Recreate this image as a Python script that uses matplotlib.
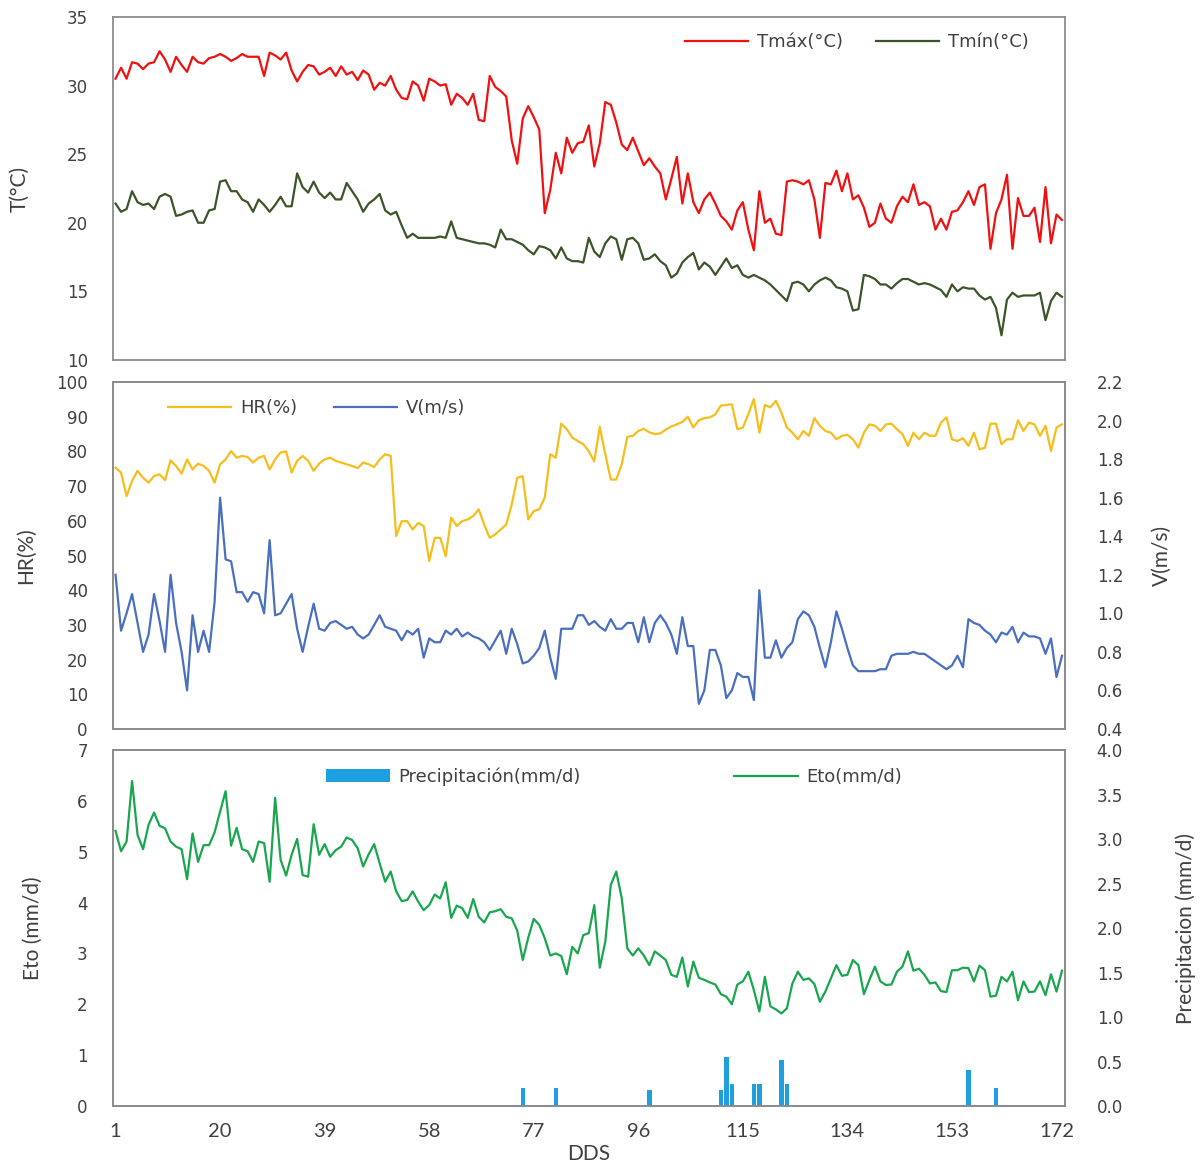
import numpy as np
import matplotlib.pyplot as plt

# daily weather series, DDS 1..173
tmax = [30.5, 31.3, 30.5, 31.7, 31.6, 31.2, 31.6, 31.7, 32.5, 31.9,
        31.0, 32.1, 31.5, 31.0, 32.1, 31.7, 31.6, 32.0, 32.1, 32.3,
        32.1, 31.8, 32.0, 32.3, 32.1, 32.1, 32.1, 30.7, 32.4, 32.2,
        31.9, 32.4, 31.1, 30.3, 31.0, 31.5, 31.4, 30.8, 31.0, 31.3,
        30.7, 31.4, 30.8, 31.0, 30.4, 31.1, 30.8, 29.7, 30.2, 30.0,
        30.7, 29.7, 29.1, 29.0, 30.3, 30.0, 28.9, 30.5, 30.3, 30.0,
        30.1, 28.6, 29.4, 29.1, 28.6, 29.4, 27.5, 27.4, 30.7, 29.9,
        29.6, 29.2, 26.0, 24.3, 27.6, 28.5, 27.7, 26.8, 20.7, 22.4,
        25.1, 23.6, 26.2, 25.1, 25.8, 25.9, 27.1,
        24.1, 25.8, 28.8, 28.6, 27.3, 25.7, 25.3, 26.2, 25.2, 24.2,
        24.7, 24.1, 23.6, 21.7, 23.2, 24.8, 21.4, 23.6, 21.5, 20.7,
        21.7, 22.2, 21.4, 20.5, 20.1, 19.5, 20.9, 21.5, 19.5, 18.0,
        22.3, 20.0, 20.3, 19.2, 19.1, 23.0, 23.1, 23.0, 22.8, 23.1,
        21.7, 18.9, 22.9, 22.8, 23.8, 22.3, 23.6, 21.7, 22.0, 21.1,
        19.7, 20.0, 21.4, 20.3, 20.0, 21.2, 21.9, 21.5, 22.8, 21.3,
        21.5, 21.2, 19.5, 20.3, 19.5, 20.8, 20.9, 21.5, 22.3, 21.3,
        22.6, 22.8, 18.1, 20.7, 21.7, 23.5, 18.1, 21.8, 20.5, 20.5,
        21.1, 18.6, 22.6, 18.5, 20.6, 20.2]

tmin = [21.4, 20.8, 21.0, 22.3, 21.5, 21.3, 21.4, 21.0, 21.9, 22.1,
        21.9, 20.5, 20.6, 20.8, 20.9, 20.0, 20.0, 20.9, 21.0, 23.0,
        23.1, 22.3, 22.3, 21.7, 21.5, 20.8, 21.7, 21.3, 20.8, 21.3,
        21.9, 21.2, 21.2, 23.6, 22.6, 22.2, 23.0, 22.2, 21.8, 22.2,
        21.7, 21.7, 22.9, 22.3, 21.7, 20.8, 21.4, 21.7, 22.1, 20.9,
        20.6, 20.8, 19.8, 18.9, 19.2, 18.9, 18.9, 18.9, 18.9, 19.0,
        18.9, 20.1, 18.9, 18.8, 18.7, 18.6, 18.5, 18.5, 18.4, 18.2,
        19.5, 18.8, 18.8, 18.6, 18.4, 18.0, 17.7, 18.3, 18.2, 18.0,
        17.4, 18.2, 17.4, 17.2, 17.2, 17.1, 18.9,
        17.9, 17.5, 18.5, 19.0, 18.8, 17.3, 18.8, 18.9, 18.5, 17.3,
        17.4, 17.7, 17.2, 16.9, 16.0, 16.3, 17.1, 17.5, 17.8,
        16.6, 17.1, 16.8, 16.2, 16.8, 17.4, 16.7, 16.9, 16.2, 16.0,
        16.2, 16.0, 15.8, 15.5, 15.1, 14.7, 14.3, 15.6, 15.7, 15.5,
        15.0, 15.5, 15.8, 16.0, 15.8, 15.3, 15.2, 15.0, 13.6, 13.7,
        16.2, 16.1, 15.9, 15.5, 15.5, 15.2, 15.6, 15.9, 15.9, 15.7,
        15.5, 15.6, 15.5, 15.3, 15.1, 14.6, 15.5, 15.0, 15.3, 15.2,
        15.2, 14.7, 14.4, 14.6, 13.8, 11.8, 14.4, 14.9, 14.6, 14.7,
        14.7, 14.7, 14.9, 12.9, 14.3, 14.9, 14.6]

hr = [75.3, 73.9, 67.1, 71.5, 74.4, 72.4, 71.0, 72.9, 73.4, 71.7,
      77.4, 75.8, 73.6, 77.7, 74.8, 76.5, 75.8, 74.4, 71.0, 76.3,
      77.7, 80.1, 78.2, 78.7, 78.4, 76.8, 78.2, 78.7, 74.8, 77.7,
      79.7, 80.0, 73.9, 77.3, 78.7, 77.3, 74.4, 76.5, 77.7, 78.2,
      77.3, 76.8, 76.3, 75.8, 75.2, 76.8, 76.3, 75.5, 77.7, 79.2,
      78.7, 55.6, 59.9, 59.9, 57.5, 59.4, 58.5, 48.4, 55.1, 55.1,
      49.8, 60.9, 58.5, 59.9, 60.4, 61.4, 63.3, 58.9, 55.1, 56.1,
      57.5, 58.9, 64.7, 72.4, 72.9, 60.4, 62.8, 63.3, 66.7, 79.2,
      78.2, 88.0, 86.4, 84.0, 83.0, 82.1, 80.1,
      77.1, 87.1, 79.2, 71.9, 71.9, 76.3, 84.2, 84.5, 85.9, 86.5,
      85.5, 85.0, 85.2, 86.3, 87.2, 87.8, 88.5, 90.0, 86.9, 89.0,
      89.6, 89.8, 90.7, 93.2, 93.4, 93.6, 86.4, 86.9, 90.7, 95.1,
      85.4, 93.4, 92.7, 94.6, 91.2, 86.9, 85.4, 83.5, 85.9, 84.5,
      89.6, 87.4, 85.9, 85.4, 83.5, 84.5, 84.8, 83.5, 81.1, 85.4,
      87.8, 87.4, 85.9, 87.8, 88.0, 86.4, 85.0, 81.6, 85.4, 83.5,
      85.4, 84.5, 84.5, 88.3, 89.8, 83.5, 83.0, 83.8, 81.6, 85.4,
      80.6, 81.1, 88.0, 88.0, 82.1, 83.5, 83.5, 89.0, 85.9, 88.3,
      87.8, 84.5, 87.4, 80.1, 86.9, 87.8]

wind = [1.20, 0.91, 1.00, 1.10, 0.95, 0.80, 0.89, 1.10, 0.96, 0.80,
        1.20, 0.95, 0.80, 0.60, 0.99, 0.80, 0.91, 0.80, 1.06, 1.60,
        1.28, 1.27, 1.11, 1.11, 1.06, 1.11, 1.10, 1.00, 1.38, 0.99,
        1.00, 1.05, 1.10, 0.92, 0.80, 0.93, 1.05, 0.92, 0.91, 0.95,
        0.96, 0.94, 0.92, 0.93, 0.89, 0.87, 0.89, 0.94, 0.99, 0.93,
        0.92, 0.91, 0.86, 0.91, 0.89, 0.92, 0.77, 0.87, 0.85, 0.85,
        0.91, 0.89, 0.92, 0.88, 0.90, 0.88, 0.87, 0.85, 0.81, 0.86,
        0.91, 0.79, 0.92, 0.84, 0.74, 0.75, 0.78, 0.82, 0.91, 0.77,
        0.66, 0.92, 0.92, 0.92, 0.99, 0.99, 0.94,
        0.96, 0.93, 0.91, 0.97, 0.92, 0.92, 0.95, 0.95, 0.85, 0.98,
        0.85, 0.95, 0.99, 0.95, 0.89, 0.79, 0.98, 0.83, 0.83, 0.53,
        0.60, 0.81, 0.81, 0.73, 0.56, 0.60, 0.69, 0.67, 0.67, 0.55,
        1.12, 0.77, 0.77, 0.86, 0.77, 0.82, 0.85, 0.97, 1.01, 0.99,
        0.93, 0.82, 0.72, 0.85, 1.01, 0.92, 0.82, 0.73, 0.70, 0.70,
        0.70, 0.70, 0.71, 0.71, 0.78, 0.79, 0.79, 0.79, 0.80, 0.79,
        0.79, 0.77, 0.75, 0.73, 0.71, 0.73, 0.78, 0.72, 0.97, 0.95,
        0.94, 0.91, 0.89, 0.85, 0.90, 0.89, 0.93, 0.85, 0.90, 0.88,
        0.88, 0.87, 0.79, 0.87, 0.67, 0.78]

eto = [5.41, 5.01, 5.20, 6.39, 5.33, 5.05, 5.53, 5.77, 5.51, 5.46,
       5.20, 5.10, 5.05, 4.46, 5.36, 4.80, 5.13, 5.13, 5.38, 5.79,
       6.19, 5.12, 5.47, 5.05, 5.01, 4.80, 5.20, 5.17, 4.41, 6.06,
       4.84, 4.53, 4.94, 5.25, 4.54, 4.51, 5.54, 4.94, 5.15, 4.90,
       5.03, 5.10, 5.28, 5.23, 5.07, 4.71, 4.95, 5.15, 4.77, 4.41,
       4.61, 4.22, 4.03, 4.05, 4.22, 4.02, 3.85, 3.95, 4.16, 4.08,
       4.40, 3.70, 3.94, 3.89, 3.70, 4.07, 3.72, 3.61, 3.81, 3.83,
       3.87, 3.72, 3.69, 3.45, 2.87, 3.31, 3.68, 3.56, 3.30, 2.96,
       3.00, 2.95, 2.59, 3.13, 3.00, 3.36, 3.40,
       3.95, 2.72, 3.23, 4.35, 4.61, 4.08, 3.10, 2.96, 3.10, 2.96,
       2.77, 3.04, 2.96, 2.87, 2.58, 2.54, 2.92, 2.35, 2.84, 2.52,
       2.48, 2.43, 2.39, 2.20, 2.15, 2.00, 2.39, 2.45, 2.64, 2.28,
       1.86, 2.54, 1.96, 1.90, 1.82, 1.92, 2.41, 2.64, 2.48, 2.51,
       2.40, 2.05, 2.25, 2.51, 2.77, 2.56, 2.58, 2.87, 2.77, 2.20,
       2.48, 2.74, 2.45, 2.38, 2.39, 2.64, 2.74, 3.04, 2.66, 2.70,
       2.58, 2.41, 2.43, 2.26, 2.24, 2.67, 2.67, 2.72, 2.71, 2.45,
       2.76, 2.67, 2.15, 2.17, 2.54, 2.45, 2.64, 2.08, 2.45, 2.24,
       2.25, 2.45, 2.18, 2.59, 2.25, 2.66]

# rainy days only
rain_days = [75, 81, 98, 111, 112, 113, 117, 118, 122, 123, 156, 161]
rain_mm = [0.20, 0.20, 0.18, 0.18, 0.55, 0.25, 0.25, 0.25, 0.52, 0.25, 0.40, 0.20]

xtick_days = [1, 20, 39, 58, 77, 96, 115, 134, 153, 172]

days = np.arange(1, len(tmax) + 1)
rain = np.zeros(len(days))
rain[np.array(rain_days) - 1] = rain_mm

narrow = ['Lato', 'DejaVu Sans']
txt = '#404040'
frame = '#8c8c8c'

fig = plt.figure(figsize=(12, 11.63), dpi=100)
ax1 = fig.add_axes([0.094, 0.6905, 0.7933, 0.2949])
ax2 = fig.add_axes([0.094, 0.3732, 0.7933, 0.2983])
ax3 = fig.add_axes([0.094, 0.049, 0.7933, 0.3061])
ax2r = ax2.twinx()
ax3r = ax3.twinx()

for ax in (ax1, ax2, ax3, ax2r, ax3r):
    ax.set_xlim(0.5, len(days) + 0.5)
    ax.set_xticks(xtick_days)
    for s in ax.spines.values():
        s.set_color(frame)
        s.set_linewidth(1.3)
    ax.tick_params(length=0, colors=txt, labelsize=12)
    ax.tick_params(axis='y', pad=18)

for ax in (ax2r, ax3r):
    ax.tick_params(axis='y', pad=23)

for ax in (ax1, ax2):
    ax.tick_params(axis='x', labelbottom=False)
ax2r.tick_params(axis='x', labelbottom=False)
ax3.tick_params(axis='x', pad=12, labelsize=14.5)
for lab in ax3.get_xticklabels():
    lab.set_family(narrow)

# temperatures
l1, = ax1.plot(days, tmax, color='#f01010', lw=1.6, label='Tmáx(°C)')
l2, = ax1.plot(days, tmin, color='#3b5528', lw=1.6, label='Tmín(°C)')
ax1.set_ylim(10, 35)
ax1.set_yticks(range(10, 36, 5))
ax1.set_ylabel('T(°C)', family=narrow, fontsize=15, color=txt)
ax1.yaxis.set_label_coords(-0.087, 0.5)
ax1.legend(handles=[l1, l2], loc='center', bbox_to_anchor=(0.714, 0.964),
           bbox_transform=fig.transFigure, ncol=2, frameon=False,
           handlelength=3.5, handletextpad=0.5, columnspacing=1.8,
           fontsize=13, labelcolor=txt)

# humidity and wind
l3, = ax2.plot(days, hr, color='#f5be1c', lw=1.6, label='HR(%)')
l4, = ax2r.plot(days, wind, color='#4a6fbf', lw=1.6, label='V(m/s)')
ax2.set_ylim(0, 100)
ax2.set_yticks(range(0, 101, 10))
ax2r.set_ylim(0.4, 2.2)
ax2r.set_yticks(np.arange(0.4, 2.21, 0.2))
ax2r.yaxis.set_major_formatter(plt.FormatStrFormatter('%.1f'))
ax2.set_ylabel('HR(%)', family=narrow, fontsize=15, color=txt)
ax2.yaxis.set_label_coords(-0.081, 0.5)
ax2r.set_ylabel('V(m/s)', family=narrow, fontsize=15, color=txt)
ax2r.yaxis.set_label_coords(1.091, 0.5)
ax2r.legend(handles=[l3, l4], loc='center', bbox_to_anchor=(0.264, 0.649),
            bbox_transform=fig.transFigure, ncol=2, frameon=False,
            handlelength=3.5, handletextpad=0.5, columnspacing=2.0,
            fontsize=13, labelcolor=txt)

# rain and reference evapotranspiration
bars = ax3r.bar(days, rain, width=0.8, color='#1e9fe0',
                label='Precipitación(mm/d)')
l5, = ax3.plot(days, eto, color='#19a64e', lw=1.6, label='Eto(mm/d)')
ax3.set_zorder(ax3r.get_zorder() + 1)
ax3.patch.set_visible(False)
ax3.set_ylim(0, 7)
ax3.set_yticks(range(0, 8))
ax3r.set_ylim(0, 4)
ax3r.set_yticks(np.arange(0, 4.01, 0.5))
ax3r.yaxis.set_major_formatter(plt.FormatStrFormatter('%.1f'))
ax3.set_ylabel('Eto (mm/d)', family=narrow, fontsize=15, color=txt)
ax3.yaxis.set_label_coords(-0.0735, 0.5)
ax3r.set_ylabel('Precipitacion (mm/d)', family=narrow, fontsize=15, color=txt)
ax3r.yaxis.set_label_coords(1.116, 0.5)
ax3.set_xlabel('DDS', family=narrow, fontsize=15, color=txt, labelpad=3)
ax3.legend(handles=[bars, l5], loc='center', bbox_to_anchor=(0.512, 0.332),
           bbox_transform=fig.transFigure, ncol=2, frameon=False,
           handlelength=3.5, handletextpad=0.5, columnspacing=8.5,
           fontsize=13, labelcolor=txt)

fig.savefig('out.png', dpi=100)
